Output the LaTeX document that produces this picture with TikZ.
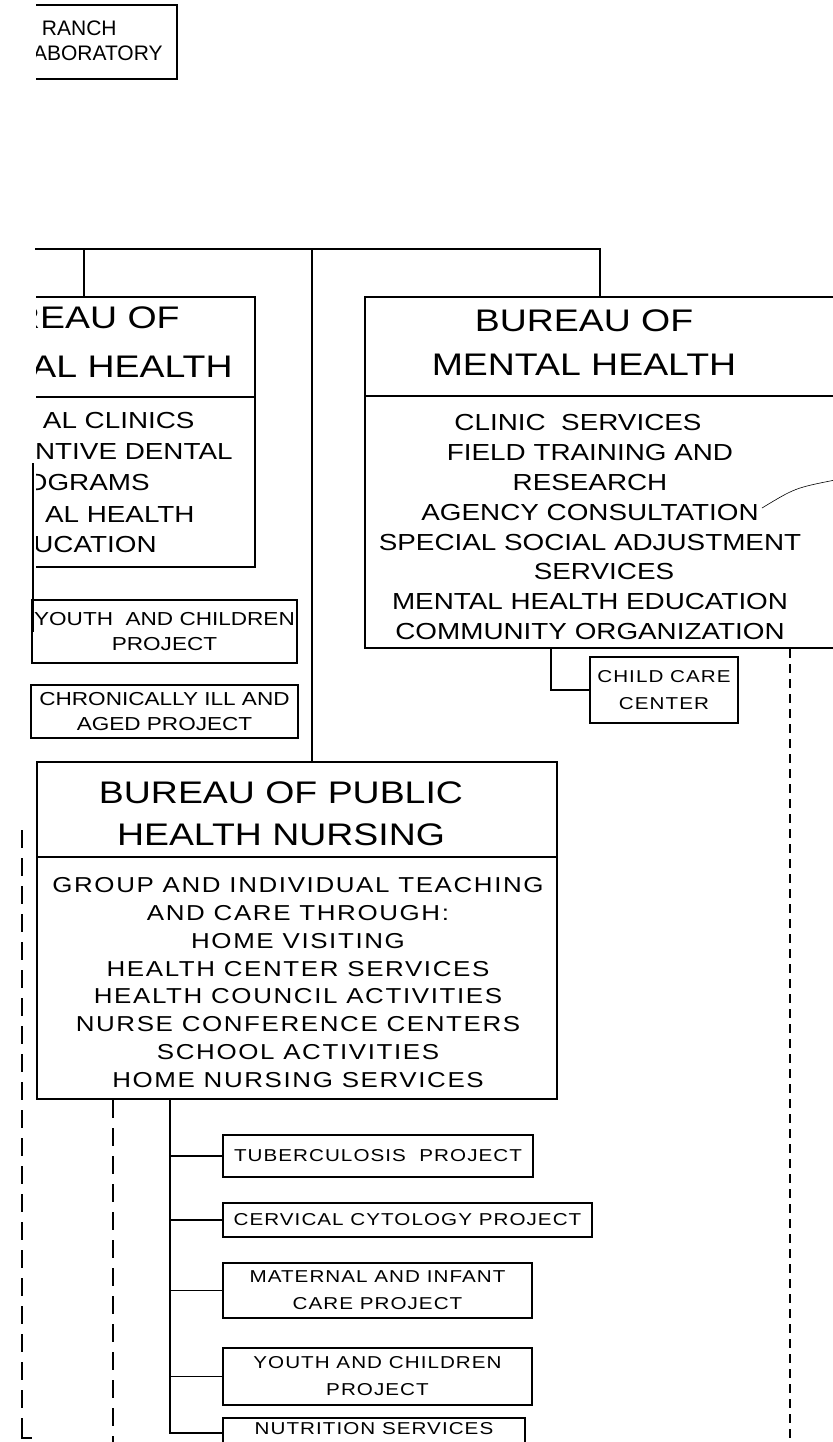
\documentclass[tikz,border=0pt]{standalone}
\usepackage{fontspec}
\newfontfamily\lettering[FakeStretch=1.2]{Liberation Sans}
\newfontfamily\letteringsp[FakeStretch=1.2,LetterSpace=7.5]{Liberation Sans}
\newfontfamily\letteringpj[FakeStretch=1.2,LetterSpace=6]{Liberation Sans}
\newfontfamily\letteringn{Liberation Sans}
\usetikzlibrary{positioning}

\begin{document}
\begin{tikzpicture}[x=0.5pt, y=-0.5pt,
  box/.style={rectangle, draw, line width=1pt, inner sep=0pt},
  link/.style={line width=0.9pt},
  dashlink/.style={line width=1.4pt, dash pattern=on 9pt off 5pt},
  dashfine/.style={line width=1.3pt, dash pattern=on 4.5pt off 3pt},
  head/.style={inner sep=0pt, align=center,
               font=\lettering\fontsize{15.6pt}{22pt}\selectfont},
  body/.style={inner sep=0pt, align=center,
               font=\lettering\fontsize{11.6pt}{15pt}\selectfont},
  nbody/.style={inner sep=0pt, align=center,
                font=\letteringsp\fontsize{10.8pt}{13.93pt}\selectfont},
  small/.style={align=center, font=\lettering\fontsize{9.4pt}{12.5pt}\selectfont},
  project/.style={align=center, font=\letteringpj\fontsize{8.6pt}{13.5pt}\selectfont},
  labtext/.style={inner sep=0pt, font=\letteringn\fontsize{10.5pt}{12pt}\selectfont}
]
\useasboundingbox (0,0) rectangle (833,1442);
\clip (0,0) rectangle (833,1442);

% boxes cut by the left edge of the sheet
\begin{scope}
  \clip (36,0) rectangle (833,1442);
  \node[box, minimum width=113.5pt, minimum height=37pt] (lab) at (63.5,42) {};
  \node[labtext, anchor=east] (labA) at (117,28) {RANCH};
  \node[labtext, anchor=east] (labB) at (163,53) {ABORATORY};

  \node[box, minimum width=171pt, minimum height=135pt] (dental) at (84,432) {};
  \draw[link] (dental.west |- 0,397) -- (dental.east |- 0,397);
  \node[head, anchor=east] (dentalA) at (180,318) {REAU OF};
  \node[head, anchor=east] (dentalB) at (233,367) {AL HEALTH};
  \node[body, anchor=east] (dentalC) at (195,421) {AL CLINICS};
  \node[body, anchor=east] (dentalD) at (233,452) {NTIVE DENTAL};
  \node[body, anchor=east] (dentalE) at (150,483) {ROGRAMS};
  \node[body, anchor=east] (dentalF) at (195,515) {AL HEALTH};
  \node[body, anchor=east] (dentalG) at (157,545) {DUCATION};
\end{scope}

% bureau of mental health
\node[box, minimum width=267.5pt, minimum height=175.5pt] (mental) at (632.5,472.5) {};
\draw[link] (mental.west |- 0,396) -- (mental.east |- 0,396);
\node[head] (mentalhead) at (584,342.5) {BUREAU OF\\MENTAL HEALTH};
\node[body] (mentalbody) at (590,527) {CLINIC\ \ SERVICES\hspace*{12pt}\\FIELD TRAINING AND\\RESEARCH\\
  AGENCY CONSULTATION\\SPECIAL SOCIAL ADJUSTMENT\\\hspace*{14pt}SERVICES\\
  MENTAL HEALTH EDUCATION\\COMMUNITY ORGANIZATION};
\node[box, project, minimum width=74pt, minimum height=33pt] (childcare) at (664,690)
  {CHILD CARE\\CENTER};

% left column projects
\node[box, small, minimum width=132.5pt, minimum height=31.5pt] (youthA) at (164.5,631.5)
  {YOUTH\ \ AND CHILDREN\\PROJECT};
\node[box, small, minimum width=133.5pt, minimum height=26.5pt] (chronic) at (164.5,711.5)
  {CHRONICALLY ILL AND\\AGED PROJECT};

% bureau of public health nursing
\node[box, minimum width=260pt, minimum height=168.5pt] (nursing) at (297,930.5) {};
\draw[link] (nursing.west |- 0,857) -- (nursing.east |- 0,857);
\node[head, font=\lettering\fontsize{15.6pt}{21pt}\selectfont] (nursinghead) at (281,814)
  {BUREAU OF PUBLIC\\HEALTH NURSING};
\node[nbody] (nursingbody) at (298,982.5) {GROUP AND INDIVIDUAL TEACHING\\
  AND CARE THROUGH:\\HOME VISITING\\HEALTH CENTER SERVICES\\
  HEALTH COUNCIL ACTIVITIES\\NURSE CONFERENCE CENTERS\\
  SCHOOL ACTIVITIES\\HOME NURSING SERVICES};

\node[box, project, minimum width=155pt, minimum height=21pt] (tb) at (378,1156)
  {TUBERCULOSIS\ \ PROJECT};
\node[box, project, minimum width=184.5pt, minimum height=17pt,
      below=12pt of tb.south west, anchor=north west] (cc) {CERVICAL CYTOLOGY PROJECT};
\node[box, project, minimum width=154.5pt, minimum height=27.5pt,
      below=12pt of cc.south west, anchor=north west] (mi) {MATERNAL AND INFANT\\CARE PROJECT};
\node[box, project, minimum width=154.5pt, minimum height=28.5pt,
      below=14pt of mi.south west, anchor=north west] (yc) {YOUTH AND CHILDREN\\PROJECT};
\node[box, project, minimum width=151pt, minimum height=15pt, text depth=5pt,
      below=5.5pt of yc.south west, anchor=north west] (ns) {NUTRITION SERVICES};

% connectors
\coordinate (busL) at (35,249);
\coordinate (busC) at (312,249);
\coordinate (busR) at (600,249);
\draw[link] (busL) -- (busR) -- (busR |- mental.north);
\draw[link] (busL -| dental.north) -- (dental.north);
\draw[link] (busC) -- (busC |- nursing.north);
\draw[link] ([xshift=-40.75pt]mental.south) |- (childcare.west);
\draw[dashfine] ([xshift=78.75pt]mental.south) -- ++(0,820);

\coordinate (edgeT) at (33,463);
\coordinate (edgeB) at (33,632);
\draw[link] (edgeT) -- (edgeB);

\coordinate (trunk) at ([xshift=-63.5pt]nursing.south);
\draw[link] (trunk) |- (ns.west);
\foreach \b in {tb,cc,mi,yc}
  \draw[link] (trunk |- \b.west) -- (\b.west);
\draw[dashlink] ([xshift=-92pt]nursing.south) -- ++(0,360);

\coordinate (sideT) at (22,830);
\coordinate (sideB) at (22,1438);
\coordinate (sideE) at (32,1438);
\draw[dashlink] (sideT) -- (sideB);
\draw[link] (sideB) ++(0,-14) -- (sideB) -- (sideE);

% pencil stroke
\draw[line width=0.3pt] (762,508) .. controls (795,488) .. (835,480);
\end{tikzpicture}
\end{document}
